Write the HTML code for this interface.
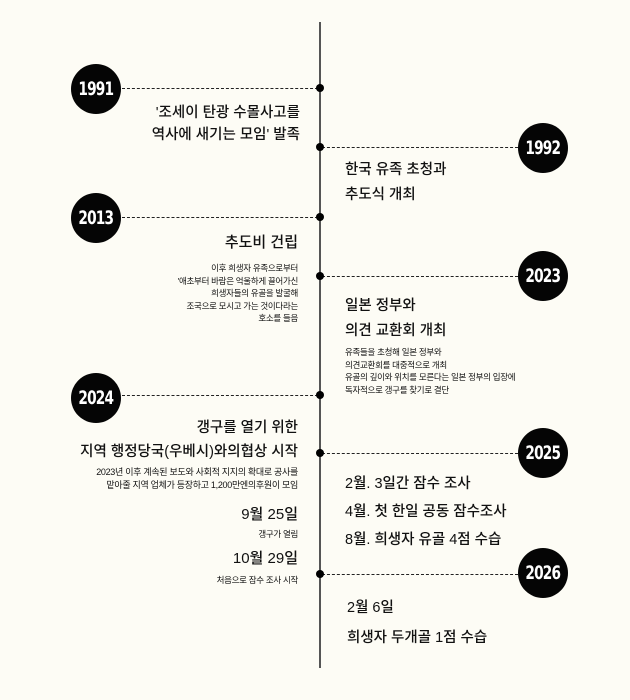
<!DOCTYPE html>
<html><head><meta charset="utf-8"><style>
body{margin:0;width:630px;height:700px;background:#fdfcf5;position:relative;overflow:hidden;font-family:"Liberation Sans","Noto Sans CJK KR",sans-serif;color:#111}
.a{position:absolute}
.vl{left:319px;top:22px;width:2px;height:646px;background:#555}
.dot{position:absolute;width:8px;height:8px;border-radius:50%;background:#000;left:316px}
.dl{position:absolute;height:0;border-top:1.3px dashed #222}
.c{position:absolute;width:50px;height:50px;border-radius:50%;background:#050505;color:#fff;font-family:"DejaVu Sans Condensed","Liberation Sans Narrow",sans-serif;font-weight:bold;font-size:19px;line-height:50px;text-align:center}
.c span{display:inline-block;transform:scaleX(.8);letter-spacing:-1px}
.t{position:absolute;font-size:14.5px;line-height:22px;font-weight:500}
.r{text-align:right}
.s{position:absolute;font-size:8.5px;line-height:12.5px;letter-spacing:-.3px}
</style></head><body>
<div class="a vl"></div>

<div class="dl" style="left:122px;top:88px;width:196px"></div>
<div class="dot" style="top:84px"></div>
<div class="c" style="left:71px;top:64px"><span>1991</span></div>
<div class="t r" style="left:100px;width:200px;top:102px">'조세이 탄광 수몰사고를<br>역사에 새기는 모임' 발족</div>

<div class="dl" style="left:322px;top:147px;width:196px"></div>
<div class="dot" style="top:143px"></div>
<div class="c" style="left:518px;top:123px"><span>1992</span></div>
<div class="t" style="left:345px;top:158px;line-height:25px">한국 유족 초청과<br>추도식 개최</div>

<div class="dl" style="left:122px;top:217px;width:196px"></div>
<div class="dot" style="top:213px"></div>
<div class="c" style="left:71px;top:193px"><span>2013</span></div>
<div class="t r" style="left:100px;width:198px;top:232px;font-size:15px">추도비 건립</div>
<div class="s r" style="left:100px;width:198px;top:262px">이후 희생자 유족으로부터<br>'애초부터 바람은 억울하게 끌어가신<br>희생자들의 유골을 발굴해<br>조국으로 모시고 가는 것이다라는<br>호소를 들음</div>

<div class="dl" style="left:322px;top:276px;width:196px"></div>
<div class="dot" style="top:272px"></div>
<div class="c" style="left:518px;top:251px"><span>2023</span></div>
<div class="t" style="left:345px;top:294px;line-height:25px">일본 정부와<br>의견 교환회 개최</div>
<div class="s" style="left:345px;top:346px">유족들을 초청해 일본 정부와<br>의견교환회를 대중적으로 개최<br>유골의 깊이와 위치를 모른다는 일본 정부의 입장에<br>독자적으로 갱구를 찾기로 결단</div>

<div class="dl" style="left:122px;top:395px;width:196px"></div>
<div class="dot" style="top:391px"></div>
<div class="c" style="left:71px;top:373px"><span>2024</span></div>
<div class="t r" style="left:40px;width:258px;top:416px;line-height:24px">갱구를 열기 위한<br>지역 행정당국(우베시)와의협상 시작</div>
<div class="s r" style="left:40px;width:258px;top:466px;font-size:9px">2023년 이후 계속된 보도와 사회적 지지의 확대로 공사를<br>맡아줄 지역 업체가 등장하고 1,200만엔의후원이 모임</div>
<div class="t r" style="left:100px;width:198px;top:504px;font-size:15px">9월 25일</div>
<div class="s r" style="left:100px;width:198px;top:528px">갱구가 열림</div>
<div class="t r" style="left:100px;width:198px;top:548px;font-size:15px">10월 29일</div>
<div class="s r" style="left:100px;width:198px;top:574px">처음으로 잠수 조사 시작</div>

<div class="dl" style="left:322px;top:453px;width:196px"></div>
<div class="dot" style="top:449px"></div>
<div class="c" style="left:518px;top:428px"><span>2025</span></div>
<div class="t" style="left:345px;top:470px;line-height:28px">2월. 3일간 잠수 조사<br>4월. 첫 한일 공동 잠수조사<br>8월. 희생자 유골 4점 수습</div>

<div class="dl" style="left:322px;top:574px;width:196px"></div>
<div class="dot" style="top:570px"></div>
<div class="c" style="left:518px;top:548px"><span>2026</span></div>
<div class="t" style="left:347px;top:593px;line-height:30px">2월 6일<br>희생자 두개골 1점 수습</div>
</body></html>
